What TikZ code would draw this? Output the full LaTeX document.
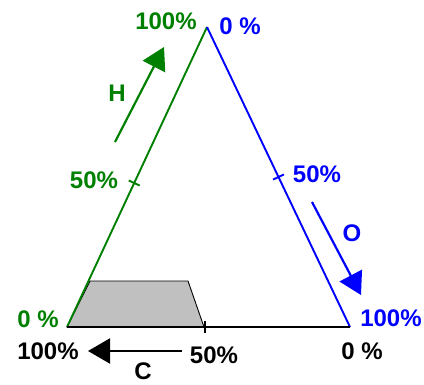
\documentclass[tikz,border=0pt]{standalone}
\usepackage{fontspec}
\setmainfont{Liberation Sans}
\usetikzlibrary{arrows.meta,calc}
\definecolor{hgreen}{HTML}{008000}
\definecolor{oblue}{HTML}{0000FF}
\definecolor{cgray}{HTML}{C0C0C0}
\begin{document}
\begin{tikzpicture}[x=1pt,y=-1pt,font=\fontsize{24}{24}\selectfont\bfseries,
 pct/.style={inner sep=0pt},
 side/.style={line width=1.9pt},
 flow/.style={line width=2.2pt,-{Triangle[length=22pt,width=25pt]}}]
\useasboundingbox (0,0) rectangle (424,384);
% corners of the triangle
\coordinate (c0) at (67,327);
\coordinate (h1) at (207,27);
\coordinate (o1) at (350,327);
% shaded region
\draw[fill=cgray,line width=0.9pt] (c0) -- (90,281) -- (188,281) -- (204,327) -- cycle;
% sides
\draw[side,hgreen] (c0) -- (h1);
\draw[side,oblue] (h1) -- (o1);
\draw[side,black] (o1) -- (c0);
% half-way ticks
\coordinate (hm) at ($(c0)!0.48!(h1)$);
\coordinate (om) at ($(h1)!0.5!(o1)$);
\coordinate (cm) at ($(c0)!0.488!(o1)$);
\draw[side,hgreen] ($(hm)!6pt!90:(h1)$) -- ($(hm)!6pt!-90:(h1)$);
\draw[side,oblue] ($(om)!6pt!90:(o1)$) -- ($(om)!6pt!-90:(o1)$);
\draw[side,black] ($(cm)!6pt!90:(o1)$) -- ($(cm)!6pt!-90:(o1)$);
% percent labels
\node[pct,text=hgreen] (h100) at (166,21) {100\%};
\node[pct,text=oblue] (o0) at (240,26) {0 \%};
\node[pct,text=hgreen] (h50) at (94,180) {50\%};
\node[pct,text=oblue] (o50) at (317,174) {50\%};
\node[pct,text=hgreen] (h0) at (38,319) {0 \%};
\node[pct,text=oblue] (o100) at (391,318) {100\%};
\node[pct] (c100) at (48,351) {100\%};
\node[pct] (c50) at (214,355) {50\%};
\node[pct] (c0l) at (362,351) {0 \%};
% direction arrows
\coordinate (hs) at (115,142);
\coordinate (he) at (164,47);
\coordinate (os) at (312,202);
\coordinate (oe) at (361,295);
\coordinate (cs) at (182,351);
\coordinate (ce) at (88,351);
\draw[flow,hgreen] (hs) -- (he);
\draw[flow,oblue] (os) -- (oe);
\draw[flow,black] (cs) -- (ce);
\node[pct,text=hgreen] (hl) at (117,93) {H};
\node[pct,text=oblue] (ol) at (352,233) {O};
\node[pct] (cl) at (143,371) {C};
\end{tikzpicture}
\end{document}
